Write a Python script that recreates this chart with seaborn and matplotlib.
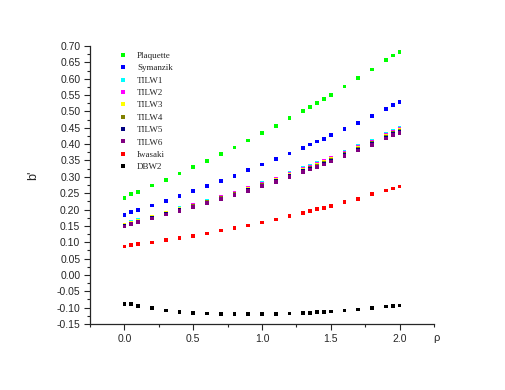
import pandas as pd
import matplotlib
matplotlib.use("Agg")
import matplotlib.pyplot as plt
import seaborn as sns

# valeurs
rho = [0.0, 0.05, 0.1, 0.2, 0.3, 0.4, 0.5, 0.6, 0.7, 0.8, 0.9, 1.0, 1.1, 1.2,
       1.3, 1.35, 1.4, 1.45, 1.5, 1.6, 1.7, 1.8, 1.9, 1.95, 2.0]

plaquette = [0.235, 0.247, 0.254, 0.273, 0.291, 0.310, 0.330, 0.349, 0.369, 0.390, 0.411, 0.434, 0.456,
             0.479, 0.502, 0.514, 0.526, 0.538, 0.551, 0.576, 0.602, 0.628, 0.657, 0.671, 0.681]
symanzik = [0.183, 0.193, 0.198, 0.212, 0.227, 0.242, 0.256, 0.272, 0.287, 0.303, 0.321, 0.338, 0.354,
            0.371, 0.389, 0.399, 0.408, 0.416, 0.427, 0.446, 0.465, 0.487, 0.508, 0.519, 0.528]
tilw1 = [0.154, 0.161, 0.167, 0.179, 0.191, 0.204, 0.215, 0.227, 0.240, 0.252, 0.267, 0.281, 0.295,
         0.311, 0.326, 0.334, 0.342, 0.350, 0.359, 0.377, 0.394, 0.411, 0.431, 0.441, 0.449]
tilw2 = [0.153, 0.160, 0.166, 0.178, 0.190, 0.202, 0.213, 0.225, 0.239, 0.251, 0.265, 0.279, 0.293,
         0.308, 0.323, 0.332, 0.340, 0.348, 0.357, 0.374, 0.391, 0.408, 0.428, 0.438, 0.446]
tilw3 = [0.152, 0.158, 0.165, 0.177, 0.189, 0.201, 0.212, 0.224, 0.237, 0.249, 0.263, 0.277, 0.291,
         0.306, 0.321, 0.329, 0.337, 0.345, 0.354, 0.371, 0.388, 0.405, 0.425, 0.435, 0.443]
tilw4 = [0.150, 0.157, 0.163, 0.175, 0.187, 0.199, 0.210, 0.222, 0.235, 0.247, 0.261, 0.275, 0.289,
         0.304, 0.319, 0.327, 0.335, 0.343, 0.352, 0.369, 0.386, 0.403, 0.423, 0.433, 0.440]
tilw5 = [0.149, 0.156, 0.162, 0.174, 0.186, 0.198, 0.209, 0.221, 0.233, 0.245, 0.259, 0.273, 0.287,
         0.302, 0.317, 0.324, 0.332, 0.340, 0.349, 0.366, 0.383, 0.400, 0.420, 0.430, 0.437]
tilw6 = [0.148, 0.155, 0.161, 0.173, 0.185, 0.196, 0.207, 0.219, 0.232, 0.244, 0.257, 0.271, 0.285,
         0.299, 0.314, 0.322, 0.330, 0.338, 0.347, 0.363, 0.380, 0.397, 0.417, 0.427, 0.434]
iwasaki = [0.087, 0.092, 0.094, 0.099, 0.106, 0.113, 0.120, 0.127, 0.136, 0.143, 0.151, 0.160, 0.170,
           0.180, 0.190, 0.195, 0.201, 0.205, 0.211, 0.222, 0.233, 0.247, 0.258, 0.264, 0.270]
dbw2 = [-0.089, -0.089, -0.095, -0.102, -0.109, -0.114, -0.117, -0.118, -0.120, -0.120, -0.120, -0.120, -0.120,
        -0.118, -0.116, -0.116, -0.114, -0.113, -0.112, -0.109, -0.106, -0.102, -0.096, -0.095, -0.093]

noms = ["Plaquette", "Symanzik", "TILW1", "TILW2", "TILW3", "TILW4", "TILW5", "TILW6", "Iwasaki", "DBW2"]
series = [plaquette, symanzik, tilw1, tilw2, tilw3, tilw4, tilw5, tilw6, iwasaki, dbw2]
couleurs = ["#00ff00", "#0000ff", "#00ffff", "#ff00ff", "#ffff00",
            "#808000", "#000080", "#800080", "#ff0000", "#000000"]

# tableau long pour seaborn
df = pd.concat([pd.DataFrame({"rho": rho, "b": vals, "action": nom})
                for nom, vals in zip(noms, series)], ignore_index=True)

sns.set_style("ticks")
plt.rcParams["font.family"] = ["Liberation Sans", "DejaVu Sans"]
plt.rcParams["axes.unicode_minus"] = False

fig = plt.figure(figsize=(5.05, 3.90), dpi=100)
ax = fig.add_axes([90 / 505, 1 - 324 / 390, 344 / 505, 278 / 390])

sns.scatterplot(data=df, x="rho", y="b", hue="action", hue_order=noms,
                palette=dict(zip(noms, couleurs)), marker="s", s=7,
                linewidth=0, ax=ax)

ax.set_xlim(-0.25, 2.25)
ax.set_ylim(-0.15, 0.70)
ax.set_xticks([0.0, 0.5, 1.0, 1.5, 2.0])
ax.set_xticks([-0.25, 0.25, 0.75, 1.25, 1.75, 2.25], minor=True)
ax.set_yticks([round(-0.15 + 0.05 * i, 2) for i in range(18)])
ax.set_yticks([round(-0.125 + 0.05 * i, 3) for i in range(17)], minor=True)
ax.xaxis.set_major_formatter(matplotlib.ticker.FormatStrFormatter("%.1f"))
ax.yaxis.set_major_formatter(matplotlib.ticker.FormatStrFormatter("%.2f"))
ax.tick_params(axis="both", which="major", length=4, width=0.8, labelsize=7.5, pad=3)
ax.tick_params(axis="both", which="minor", length=2.5, width=0.8)
sns.despine(ax=ax)
ax.spines["left"].set_linewidth(0.9)
ax.spines["bottom"].set_linewidth(0.9)
ax.set_xlabel("")
ax.set_ylabel("")

# légende sans cadre, police à empattements
ax.legend(loc="upper left", bbox_to_anchor=(110 / 505, 1 - 48 / 390),
          bbox_transform=fig.transFigure, frameon=False,
          prop={"family": "Liberation Serif", "size": 6.5},
          handletextpad=0.6, labelspacing=0.45, borderaxespad=0, markerscale=1.0)

fig.text(33 / 505, 1 - 175 / 390, "b'", rotation=90, ha="center", va="center", fontsize=9)
fig.text(436 / 505, 1 - 338 / 390, "ρ", ha="center", va="center", fontsize=8)

fig.savefig("out.png", dpi=100)
